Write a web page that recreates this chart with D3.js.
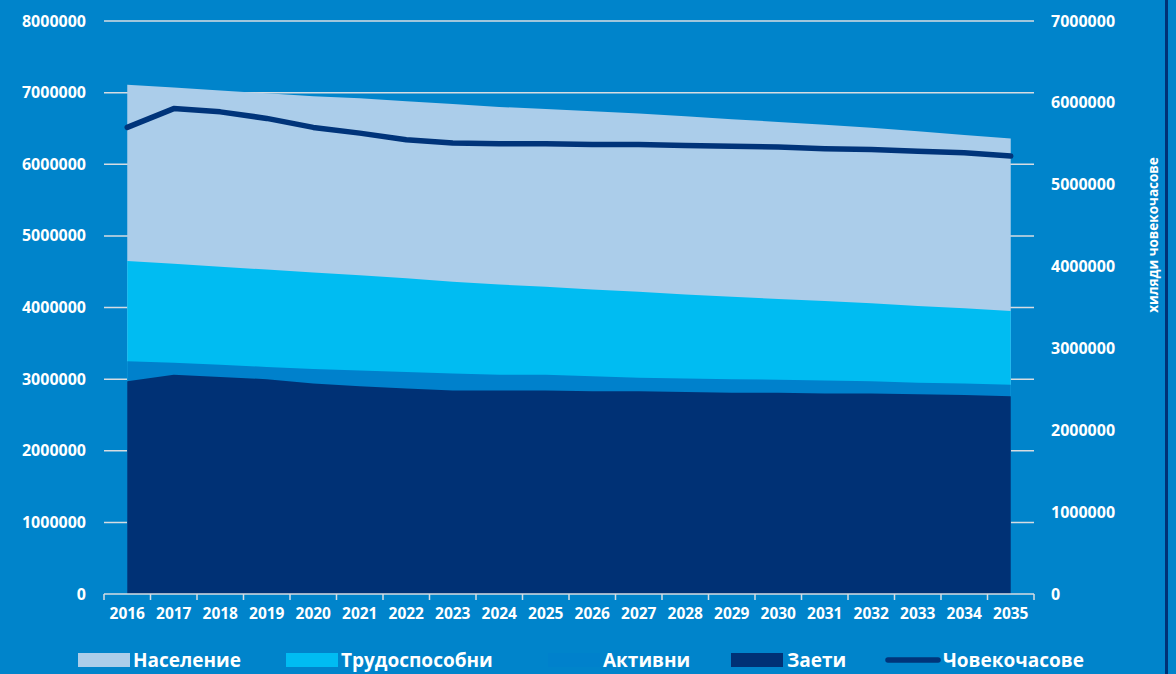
<!DOCTYPE html>
<html><head><meta charset="utf-8">
<script src="https://cdn.jsdelivr.net/npm/d3@7"></script>
<style>html,body{margin:0;padding:0;background:#0084CB;overflow:hidden}svg{display:block}</style>
</head><body>
<svg id="c" width="1176" height="674"></svg>
<script>
const years = ["2016","2017","2018","2019","2020","2021","2022","2023","2024","2025","2026","2027","2028","2029","2030","2031","2032","2033","2034","2035"];
const naselenie = [7110000,7070000,7030000,6990000,6950000,6920000,6880000,6840000,6800000,6770000,6740000,6710000,6670000,6630000,6590000,6550000,6510000,6460000,6410000,6360000];
const trudosposobni = [4650000,4610000,4570000,4530000,4490000,4450000,4410000,4360000,4320000,4290000,4250000,4220000,4180000,4150000,4120000,4090000,4060000,4020000,3990000,3950000];
const aktivni = [3250000,3230000,3200000,3170000,3140000,3120000,3100000,3080000,3060000,3060000,3040000,3020000,3010000,3000000,2990000,2980000,2970000,2950000,2940000,2920000];
const zaeti = [2970000,3060000,3030000,3000000,2940000,2900000,2870000,2840000,2840000,2840000,2830000,2830000,2820000,2810000,2810000,2800000,2800000,2790000,2780000,2760000];
const chovekochasove = [5700000,5930000,5890000,5810000,5700000,5630000,5550000,5510000,5500000,5500000,5490000,5490000,5480000,5470000,5460000,5440000,5430000,5410000,5390000,5350000];
const leftTicks = [0,1000000,2000000,3000000,4000000,5000000,6000000,7000000,8000000];
const rightTicks = [0,1000000,2000000,3000000,4000000,5000000,6000000,7000000];
const seriesNames = ["Население","Трудоспособни","Активни","Заети","Човекочасове"];
const rightTitle = "хиляди човекочасове";

const C = {bg:"#0084CB", pop:"#ABCDEA", trud:"#00BCF2", akt:"#0081CC", zaeti:"#003175", line:"#00347A", grid:"#D6DCE2", text:"#FFFFFF"};
const font = "'Open Sans', 'Noto Sans', sans-serif";

const svg = d3.select("#c");
svg.append("rect").attr("width",1176).attr("height",674).attr("fill",C.bg);

const x = d3.scaleBand().domain(years).range([104,1034]).padding(0);
const xc = d => x(d) + x.bandwidth()/2;
const yL = d3.scaleLinear().domain([0,8000000]).range([594,21]);
const yR = d3.scaleLinear().domain([0,7000000]).range([594,21]);

// gridlines
svg.append("g").selectAll("line").data(leftTicks.slice(1)).join("line")
  .attr("x1",104).attr("x2",1034).attr("y1",d=>yL(d)).attr("y2",d=>yL(d))
  .attr("stroke",C.grid).attr("stroke-width",1.5);

// areas
const areaData = [[naselenie,C.pop],[trudosposobni,C.trud],[aktivni,C.akt],[zaeti,C.zaeti]];
areaData.forEach(([vals,col])=>{
  const a = d3.area().x((d,i)=>xc(years[i])).y0(yL(0)).y1(d=>yL(d));
  svg.append("path").datum(vals).attr("d",a).attr("fill",col);
});

// line
const ln = d3.line().x((d,i)=>xc(years[i])).y(d=>yR(d));
svg.append("path").datum(chovekochasove).attr("d",ln).attr("fill","none")
  .attr("stroke",C.line).attr("stroke-width",5.5).attr("stroke-linecap","round").attr("stroke-linejoin","round");

// x axis
const gx = svg.append("g").attr("transform","translate(0,594)");
gx.append("line").attr("x1",104).attr("x2",1034).attr("y1",0).attr("y2",0).attr("stroke",C.grid).attr("stroke-width",1.5);
const edges = years.map(d=>x(d)).concat([x(years[years.length-1])+x.bandwidth()]);
gx.selectAll("line.t").data(edges).join("line").attr("class","t")
  .attr("x1",d=>d).attr("x2",d=>d).attr("y1",0).attr("y2",6).attr("stroke",C.grid).attr("stroke-width",1.5);
gx.selectAll("text").data(years).join("text")
  .attr("x",d=>xc(d)).attr("y",20).attr("dy","0.35em").attr("text-anchor","middle")
  .attr("fill",C.text).attr("font-family",font).attr("font-weight",700).attr("font-size",15.5).text(d=>d);

// left axis labels
svg.append("g").selectAll("text").data(leftTicks).join("text")
  .attr("x",86).attr("y",d=>yL(d)).attr("dy","0.35em").attr("text-anchor","end")
  .attr("fill",C.text).attr("font-family",font).attr("font-weight",700).attr("font-size",16).text(d=>d3.format("d")(d));

// right axis labels
svg.append("g").selectAll("text").data(rightTicks).join("text")
  .attr("x",1051).attr("y",d=>yR(d)).attr("dy","0.35em").attr("text-anchor","start")
  .attr("fill",C.text).attr("font-family",font).attr("font-weight",700).attr("font-size",16).text(d=>d3.format("d")(d));

// right title
svg.append("text").attr("transform","translate(1158,235) rotate(-90)").attr("text-anchor","middle")
  .attr("fill",C.text).attr("font-family",font).attr("font-weight",700).attr("font-size",13.5).text(rightTitle);

// right border
svg.append("rect").attr("x",1165).attr("y",0).attr("width",3).attr("height",674).attr("fill",C.zaeti);

// legend
const legendItems = [
  {name:seriesNames[0], type:"rect", col:C.pop, sx:78, tx:133},
  {name:seriesNames[1], type:"rect", col:C.trud, sx:286, tx:341},
  {name:seriesNames[2], type:"rect", col:C.akt, sx:548, tx:603},
  {name:seriesNames[3], type:"rect", col:C.zaeti, sx:731, tx:787},
  {name:seriesNames[4], type:"line", col:C.line, sx:886, tx:943}
];
const lg = svg.append("g");
legendItems.forEach(it=>{
  if(it.type==="rect"){
    lg.append("rect").attr("x",it.sx).attr("y",653).attr("width",52).attr("height",14).attr("fill",it.col);
  } else {
    lg.append("line").attr("x1",it.sx+2).attr("x2",it.sx+52).attr("y1",660).attr("y2",660)
      .attr("stroke",it.col).attr("stroke-width",5.5).attr("stroke-linecap","round");
  }
  lg.append("text").attr("x",it.tx).attr("y",660).attr("dy","0.35em")
    .attr("fill",C.text).attr("font-family",font).attr("font-weight",700).attr("font-size",19).text(it.name);
});
</script>
</body></html>
